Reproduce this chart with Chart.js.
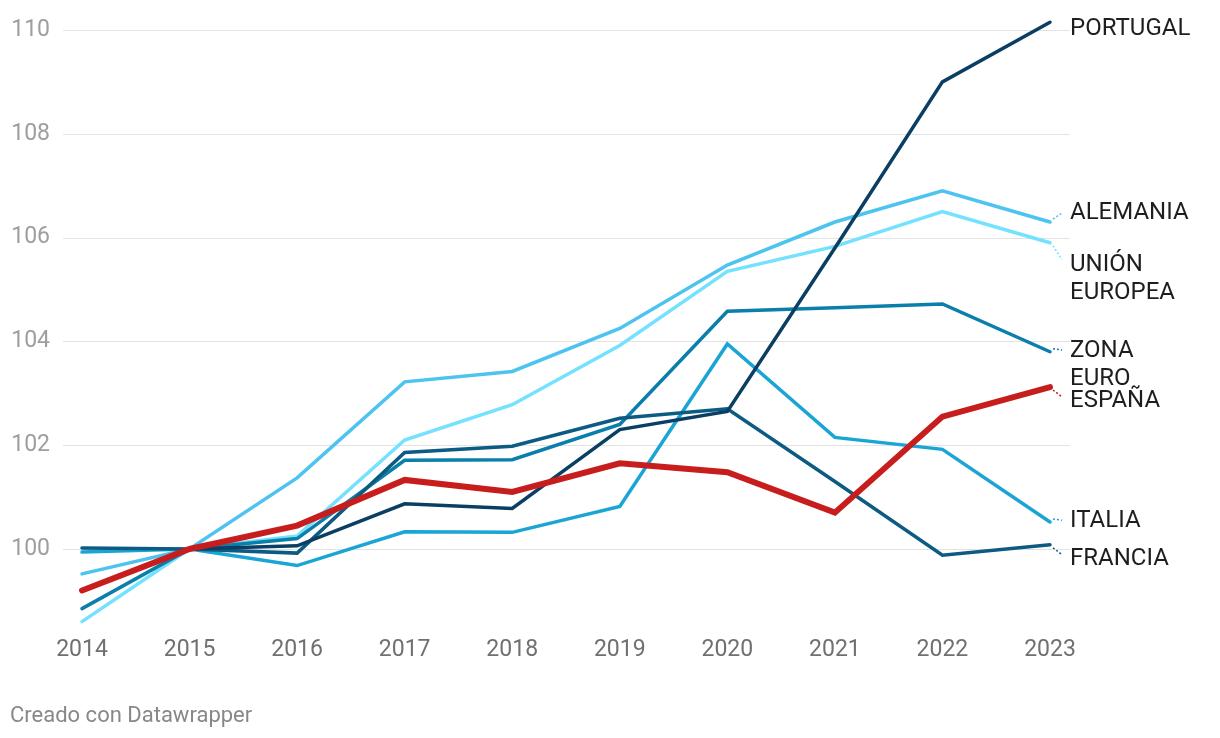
<!DOCTYPE html>
<html>
<head>
<meta charset="utf-8">
<script src="https://cdn.jsdelivr.net/npm/chart.js@4"></script>
<style>
  html, body { margin: 0; padding: 0; background: #fff; }
  #wrap { position: relative; width: 1220px; height: 738px; }
  #credit { position: absolute; left: 10px; top: 702px; font-family: Roboto, sans-serif; font-size: 22px; color: #888; }
</style>
</head>
<body>
<div id="wrap">
  <canvas id="c" width="1220" height="738"></canvas>
  <div id="credit">Creado con Datawrapper</div>
</div>
<script>
const years = ['2014','2015','2016','2017','2018','2019','2020','2021','2022','2023'];
const yTicks = [100, 102, 104, 106, 108, 110];

const espana   = [99.2, 100, 100.45, 101.33, 101.1, 101.65, 101.48, 100.7, 102.55, 103.12];
const portugal = [99.2, 100, 100.06, 100.87, 100.78, 102.3, 102.65, 105.8, 109.0, 110.15];
const francia  = [100.02, 100, 99.92, 101.86, 101.98, 102.52, 102.7, 101.3, 99.88, 100.08];
const zonaEuro = [98.85, 100, 100.2, 101.71, 101.72, 102.4, 104.58, 104.65, 104.72, 103.8];
const italia   = [99.94, 100, 99.68, 100.33, 100.32, 100.82, 103.95, 102.15, 101.92, 100.52];
const alemania = [99.52, 100, 101.37, 103.22, 103.42, 104.25, 105.47, 106.3, 106.9, 106.3];
const unionEu  = [98.6, 100, 100.25, 102.1, 102.78, 103.92, 105.35, 105.83, 106.5, 105.9];

const seriesNames = [['ESPAÑA'], ['PORTUGAL'], ['FRANCIA'], ['ZONA', 'EURO'], ['ITALIA'], ['ALEMANIA'], ['UNIÓN', 'EUROPEA']];

// label offsets (px) relative to line end, layout only
const labelDy = [12, 5, 12, -3, -3, -11, 20];
const connector = [true, false, true, true, true, true, true];

const colors = ['#c71e1d', '#0a3f63', '#0b5b82', '#0a7fab', '#1ba5d5', '#4dc3ef', '#74e1ff'];
const widths = [6, 3.5, 3.5, 3.5, 3.5, 3.5, 3.5];
const seriesData = [espana, portugal, francia, zonaEuro, italia, alemania, unionEu];

const gridPlugin = {
  id: 'grid',
  beforeDatasetsDraw(chart) {
    const ctx = chart.ctx, y = chart.scales.y;
    ctx.save();
    ctx.strokeStyle = '#e3e3e3';
    ctx.lineWidth = 1.2;
    yTicks.forEach(v => {
      const py = Math.round(y.getPixelForValue(v)) + 0.5;
      ctx.beginPath(); ctx.moveTo(63, py); ctx.lineTo(1070, py); ctx.stroke();
    });
    ctx.restore();
  }
};

const labelPlugin = {
  id: 'endLabels',
  afterDatasetsDraw(chart) {
    const ctx = chart.ctx;
    ctx.save();
    chart.data.datasets.forEach((ds, i) => {
      const meta = chart.getDatasetMeta(i);
      const pt = meta.data[meta.data.length - 1];
      const ly = pt.y + labelDy[i] + 2;
      if (connector[i]) {
        ctx.strokeStyle = ds.borderColor;
        ctx.lineWidth = 1.5;
        ctx.setLineDash([2, 2]);
        const dy = labelDy[i];
        const sy = pt.y + Math.sign(dy) * 3;
        const ey = pt.y + dy * 0.9 + Math.sign(dy) * -1;
        ctx.beginPath(); ctx.moveTo(pt.x + 3, sy); ctx.lineTo(pt.x + 12, ey); ctx.stroke();
        ctx.setLineDash([]);
      }
      ctx.fillStyle = '#1e1e1e';
      ctx.font = '24px Roboto';
      ctx.textBaseline = 'middle';
      ctx.textAlign = 'left';
      seriesNames[i].forEach((t, k) => ctx.fillText(t, 1070, ly + k * 28));
    });
    ctx.restore();
  }
};

new Chart(document.getElementById('c'), {
  type: 'line',
  data: {
    labels: years,
    datasets: seriesData.map((d, i) => ({
      label: seriesNames[i].join(' '),
      data: d,
      borderColor: colors[i],
      backgroundColor: colors[i],
      borderWidth: widths[i],
      pointRadius: 0,
      tension: 0,
      clip: false,
      borderCapStyle: 'round',
      borderJoinStyle: 'miter'
    }))
  },
  options: {
    responsive: false,
    animation: false,
    layout: { padding: { top: 30, right: 170, bottom: 0, left: 0 } },
    plugins: { legend: { display: false }, tooltip: { enabled: false } },
    scales: {
      x: {
        offset: false,
        grid: { display: false, drawTicks: false },
        border: { display: false },
        ticks: { color: '#707070', font: { family: 'Roboto', size: 23 }, padding: 4, maxRotation: 0 },
        afterFit(s) { s.height = 106; s.paddingLeft = 0; s.paddingRight = 0; }
      },
      y: {
        min: 98.4, max: 110,
        grid: { display: false, drawTicks: false },
        border: { display: false },
        afterBuildTicks(s) { s.ticks = yTicks.map(v => ({ value: v })); },
        ticks: { color: '#9e9e9e', font: { family: 'Roboto', size: 23 }, padding: 32 },
        afterFit(s) { s.width = 82; s.paddingTop = 0; s.paddingBottom = 0; }
      }
    }
  },
  plugins: [gridPlugin, labelPlugin]
});
</script>
</body>
</html>
